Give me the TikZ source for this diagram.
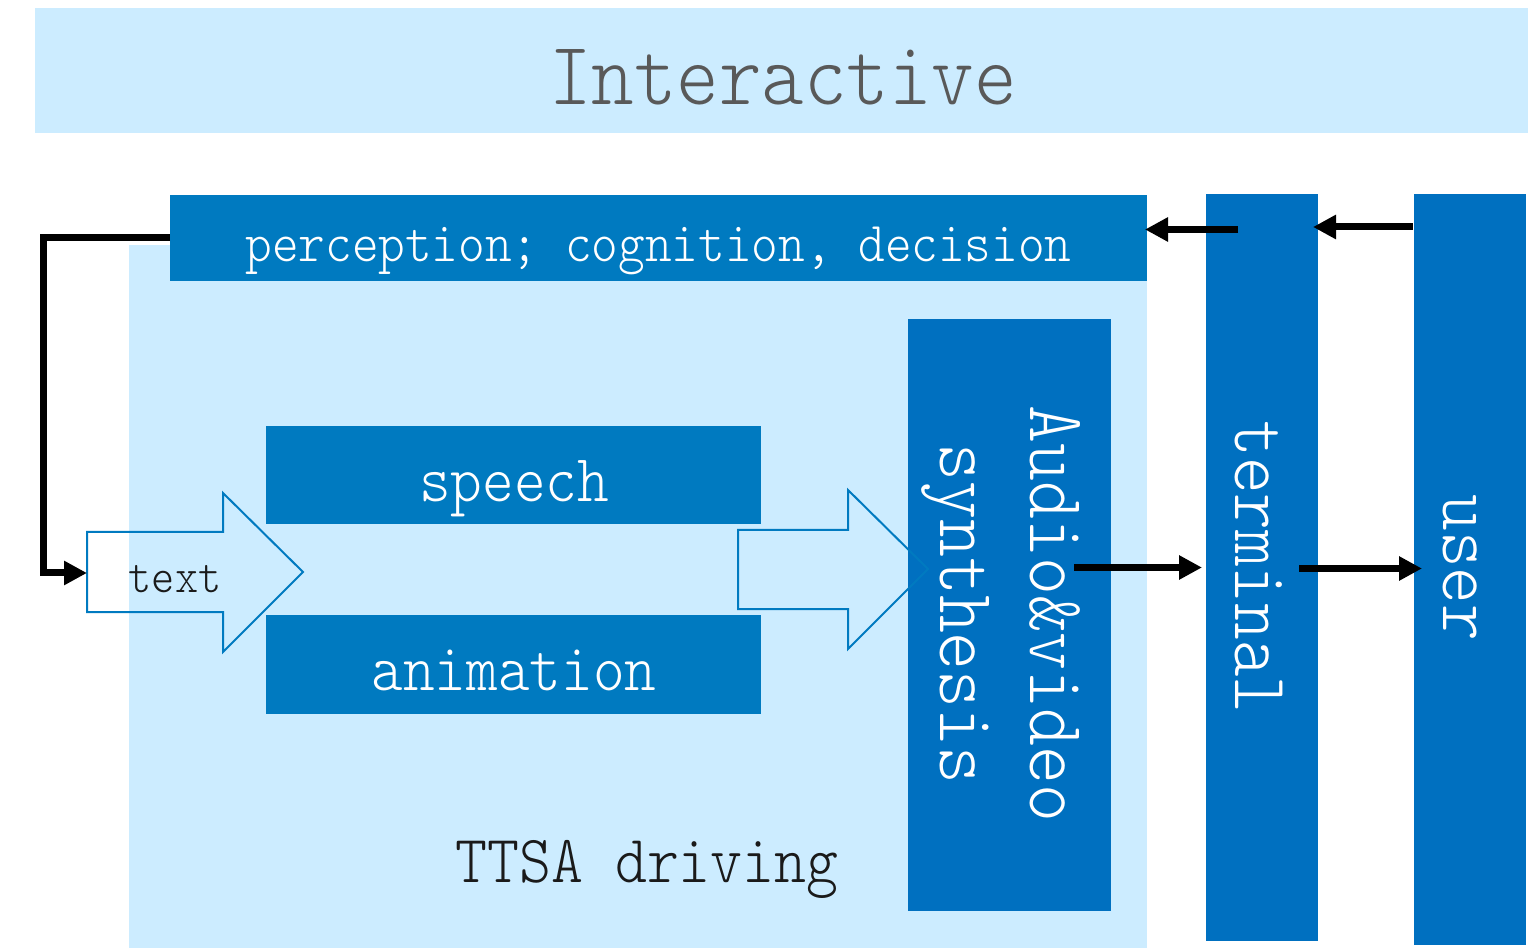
\documentclass[tikz,border=0pt]{standalone}
\usepackage{graphicx}
\usetikzlibrary{arrows.meta}
\definecolor{paleblue}{RGB}{204,236,255}
\definecolor{midblue}{RGB}{0,122,192}
\definecolor{deepblue}{RGB}{0,112,192}
\definecolor{labelgray}{RGB}{89,89,89}
\definecolor{inkblack}{RGB}{26,26,26}
% slightly condensed, light typewriter lettering
\newcommand\narrow[1]{\scalebox{0.9}[1]{#1}}
\newcommand\sz[1]{\fontsize{#1}{#1}\selectfont}
\begin{document}
\begin{tikzpicture}[x=0.5pt,y=-0.5pt,
  box/.style={fill=#1, draw=none, inner sep=0pt, outer sep=0pt},
  lbl/.style={inner sep=0pt, anchor=base, font=\ttfamily\fontseries{l}\selectfont},
  vlbl/.style={lbl, rotate=-90},
  conn/.style={line width=3.5pt, -{Triangle[length=11.5pt,width=11.5pt]}},
  blockarrow/.style={draw=midblue, line width=1pt, line join=miter}]
\useasboundingbox (0,0) rectangle (1536,951);

% background bands
\node[box=paleblue, minimum width=746.5pt, minimum height=62.5pt] (banner) at (781.5,70.5) {};
\node[box=paleblue, minimum width=509pt, minimum height=351.5pt] (ttsa) at (638,596.5) {};

% boxes
\node[box=midblue, minimum width=488.5pt, minimum height=43pt] (perc) at (658.5,238) {};
\node[box=midblue, minimum width=247.5pt, minimum height=49pt] (speech) at (513.5,475) {};
\node[box=midblue, minimum width=247.5pt, minimum height=49.5pt] (anim) at (513.5,664.5) {};
\node[box=deepblue, minimum width=101.5pt, minimum height=296pt] (av) at (1009.5,615) {};
\node[box=deepblue, minimum width=56pt, minimum height=373.5pt] (term) at (1262,567.5) {};
\node[box=deepblue, minimum width=56pt, minimum height=375.5pt] (user) at (1470,569.5) {};

% labels
\node[lbl, text=labelgray] (bannerlbl) at (783,105) {\sz{45}\narrow{Interactive}};
\node[lbl, text=white] (perclbl) at (658.5,261.5) {\sz{28.2}\narrow{perception;\ cognition,\ decision}};
\node[lbl, text=white] (speechlbl) at (514,502) {\sz{33.5}\narrow{speech}};
\node[lbl, text=white] (animlbl) at (514,690.5) {\sz{33.5}\narrow{animation}};
\node[lbl, text=inkblack] (ttsalbl) at (647,882) {\sz{33.8}\narrow{TTSA driving}};
\node[lbl, text=inkblack] (textlbl) at (175,592.5) {\sz{24.5}\narrow{text}};
\node[vlbl, text=white] (avlbl) at (1030,614) {\sz{40.1}\narrow{Audio\&video}};
\node[vlbl, text=white] (synlbl) at (940,614) {\sz{40.1}\narrow{synthesis}};
\node[vlbl, text=white] (termlbl) at (1235,567) {\sz{38.8}\narrow{terminal}};
\node[vlbl, text=white] (userlbl) at (1443,568) {\sz{38.8}\narrow{user}};

% outlined block arrows
\draw[blockarrow] (87,532) -- (223,532) -- (223,493) -- (303,572) -- (223,652) -- (223,612) -- (87,612) -- cycle;
\draw[blockarrow] (738,530) -- (848,530) -- (848,490) -- (928,569) -- (848,649) -- (848,609) -- (738,609) -- cycle;

% connector end points
\coordinate (textTail) at (87,573);
\coordinate (termOut) at (1238,229.5);
\coordinate (percIn) at (1145,229.5);
\coordinate (userOut) at (1413,227);
\coordinate (termIn) at (1313,227);
\coordinate (avOut) at (1074,567.5);
\coordinate (termInB) at (1202,567.5);
\coordinate (termOutB) at (1299,568.5);
\coordinate (userIn) at (1422,568.5);

% connectors
\draw[conn] (perc.west) -- (43,238) |- (textTail);
\draw[conn] (termOut) -- (percIn);
\draw[conn] (userOut) -- (termIn);
\draw[conn] (avOut) -- (termInB);
\draw[conn] (termOutB) -- (userIn);
\end{tikzpicture}
\end{document}
